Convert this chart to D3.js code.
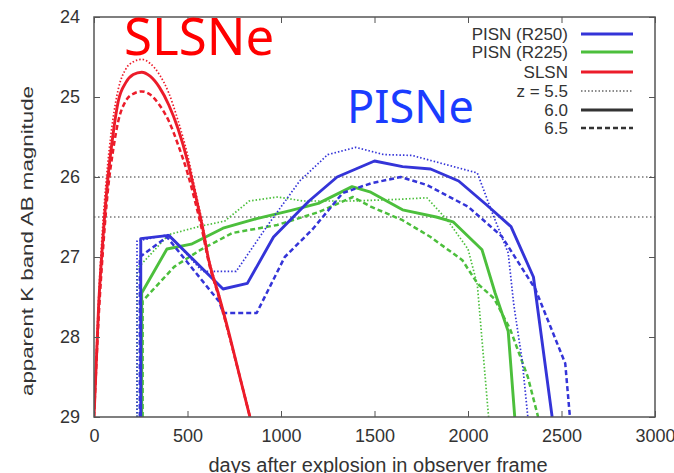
<!DOCTYPE html>
<html>
<head>
<meta charset="utf-8">
<script src="https://d3js.org/d3.v7.min.js"></script>
<style>
  body { margin: 0; background: #fff; }
  svg { display: block; font-family: "Liberation Sans", Arial, sans-serif; }
</style>
</head>
<body>
<div id="chart"></div>
<script>
// axis ticks
const xTicks = [0, 500, 1000, 1500, 2000, 2500, 3000];
const yTicks = [24, 25, 26, 27, 28, 29];
const refLines = [26, 26.5];

// SLSN (one time grid, three redshifts)
const slsnDays  = [0, 25, 50, 75, 100, 130, 170, 210, 255, 300, 350, 400, 450, 500, 540, 583, 610, 670, 727, 780, 834];
const slsnMag55 = [29, 27.5, 26.5, 25.8, 25.3, 24.9, 24.65, 24.56, 24.53, 24.58, 24.72, 24.95, 25.3, 25.72, 26.15, 26.62, 26.97, 27.48, 28.0, 28.5, 29];
const slsnMag60 = [29, 27.6, 26.7, 26.0, 25.5, 25.05, 24.82, 24.72, 24.69, 24.74, 24.88, 25.1, 25.4, 25.8, 26.2, 26.66, 27.0, 27.5, 28.0, 28.5, 29];
const slsnMag65 = [29, 27.75, 26.85, 26.15, 25.7, 25.3, 25.05, 24.96, 24.93, 24.97, 25.1, 25.3, 25.6, 25.95, 26.3, 26.72, 27.03, 27.52, 28.02, 28.5, 29];

// PISN R250
const r250Days55 = [230, 230, 400, 580, 760, 930, 1100, 1250, 1400, 1550, 1700, 2050, 2130, 2215, 2245, 2290, 2320];
const r250Mag55  = [29, 26.8, 26.72, 27.18, 27.18, 26.6, 26.05, 25.72, 25.63, 25.72, 25.73, 25.95, 26.45, 26.95, 27.6, 28.3, 29];
const r250Days60 = [250, 250, 400, 690, 820, 960, 1150, 1300, 1500, 1650, 1800, 1950, 2100, 2230, 2350, 2450];
const r250Mag60  = [29, 26.77, 26.73, 27.4, 27.33, 26.75, 26.3, 26.0, 25.8, 25.87, 25.9, 26.05, 26.35, 26.62, 27.25, 29];
const r250Days65 = [245, 245, 390, 670, 690, 870, 1020, 1170, 1330, 1480, 1640, 1780, 2000, 2180, 2360, 2520, 2545];
const r250Mag65  = [29, 27.0, 26.75, 27.56, 27.7, 27.7, 27.0, 26.65, 26.2, 26.08, 26.0, 26.1, 26.37, 26.74, 27.4, 28.33, 29];

// PISN R225
const r225Days55 = [230, 230, 400, 560, 700, 830, 980, 1120, 1380, 1620, 1780, 1890, 2000, 2050, 2110];
const r225Mag55  = [29, 27.15, 26.72, 26.62, 26.55, 26.3, 26.25, 26.3, 26.3, 26.28, 26.26, 26.54, 26.9, 27.35, 29];
const r225Days60 = [255, 255, 390, 520, 690, 870, 1050, 1200, 1380, 1480, 1650, 1830, 1920, 2075, 2145, 2215, 2250];
const r225Mag60  = [29, 27.45, 26.9, 26.84, 26.64, 26.52, 26.42, 26.33, 26.12, 26.19, 26.41, 26.5, 26.56, 26.91, 27.45, 27.93, 29];
const r225Days65 = [260, 260, 430, 570, 740, 980, 1200, 1385, 1480, 1650, 1800, 1970, 2050, 2140, 2225, 2320, 2375];
const r225Mag65  = [29, 27.55, 27.12, 26.91, 26.7, 26.6, 26.44, 26.25, 26.37, 26.54, 26.75, 27.04, 27.33, 27.52, 27.9, 28.5, 29];

const modelNames = ["PISN (R250)", "PISN (R225)", "SLSN"];
const zNames = ["z = 5.5", "6.0", "6.5"];

const W = 674, H = 473;
const margin = {top: 17, right: 19, bottom: 56, left: 94};

const colBlue = "#3434d8", colGreen = "#4cbf3c", colRed = "#ec1c2a";
const styles = {
  "5.5": {dash: "1.5,2", width: 1.7},
  "6.0": {dash: null, width: 2.9},
  "6.5": {dash: "5,3", width: 2.5}
};

const svg = d3.select("#chart").append("svg")
  .attr("width", W).attr("height", H);

const x = d3.scaleLinear().domain([0, 3000]).range([margin.left, W - margin.right]);
const y = d3.scaleLinear().domain([24, 29]).range([margin.top, H - margin.bottom]);

svg.append("clipPath").attr("id", "clip")
  .append("rect")
  .attr("x", margin.left).attr("y", margin.top)
  .attr("width", W - margin.left - margin.right)
  .attr("height", H - margin.top - margin.bottom);

// reference dotted lines
svg.selectAll(".ref").data(refLines).enter().append("line")
  .attr("x1", x(0)).attr("x2", x(3000))
  .attr("y1", d => y(d)).attr("y2", d => y(d))
  .attr("stroke", "#777").attr("stroke-width", 1.4)
  .attr("stroke-dasharray", "1.5,2.5");

const plot = svg.append("g").attr("clip-path", "url(#clip)");

function draw(days, mags, color, z, curve) {
  const pts = days.map((d, i) => [d, mags[i]]);
  const line = d3.line().x(d => x(d[0])).y(d => y(d[1])).curve(curve || d3.curveLinear);
  plot.append("path")
    .attr("d", line(pts))
    .attr("fill", "none")
    .attr("stroke", color)
    .attr("stroke-width", styles[z].width)
    .attr("stroke-linejoin", "round")
    .attr("stroke-dasharray", styles[z].dash);
}

draw(r225Days55, r225Mag55, colGreen, "5.5");
draw(r225Days65, r225Mag65, colGreen, "6.5");
draw(r225Days60, r225Mag60, colGreen, "6.0");
draw(r250Days55, r250Mag55, colBlue, "5.5");
draw(r250Days65, r250Mag65, colBlue, "6.5");
draw(r250Days60, r250Mag60, colBlue, "6.0");
draw(slsnDays, slsnMag55, colRed, "5.5", d3.curveMonotoneX);
draw(slsnDays, slsnMag65, colRed, "6.5", d3.curveMonotoneX);
draw(slsnDays, slsnMag60, colRed, "6.0", d3.curveMonotoneX);

// axes with inward ticks, mirrored
const axisCol = "#555";
function styleAxis(g) {
  g.select(".domain").remove();
  g.selectAll(".tick line").attr("stroke", axisCol);
  g.selectAll(".tick text").attr("fill", "#333").style("font-size", "18px");
}
svg.append("g").attr("transform", `translate(0,${y(29)})`)
  .call(d3.axisBottom(x).tickValues(xTicks).tickSizeInner(-6).tickPadding(12).tickFormat(d3.format("d")))
  .call(styleAxis);
svg.append("g").attr("transform", `translate(0,${y(24)})`)
  .call(d3.axisTop(x).tickValues(xTicks).tickSizeInner(-6).tickFormat(""))
  .call(styleAxis);
svg.append("g").attr("transform", `translate(${x(0)},0)`)
  .call(d3.axisLeft(y).tickValues(yTicks).tickSizeInner(-6).tickPadding(14).tickFormat(d3.format("d")))
  .call(styleAxis);
svg.append("g").attr("transform", `translate(${x(3000)},0)`)
  .call(d3.axisRight(y).tickValues(yTicks).tickSizeInner(-6).tickFormat(""))
  .call(styleAxis);

svg.append("rect")
  .attr("x", x(0)).attr("y", y(24))
  .attr("width", x(3000) - x(0)).attr("height", y(29) - y(24))
  .attr("fill", "none").attr("stroke", axisCol).attr("stroke-width", 1.5);

// axis titles
svg.append("text")
  .attr("x", 378).attr("y", 472)
  .attr("text-anchor", "middle")
  .attr("fill", "#333").style("font-size", "20px")
  .text("days after explosion in observer frame");
svg.append("text")
  .attr("transform", "translate(33,241) rotate(-90)")
  .attr("text-anchor", "middle")
  .attr("fill", "#333").style("font-size", "17px")
  .attr("textLength", 310).attr("lengthAdjust", "spacingAndGlyphs")
  .text("apparent K band AB magnitude");

// legend
const legTextX = 568, legX1 = 581, legX2 = 633;
const legRows = [
  {label: modelNames[0], color: colBlue, z: "6.0"},
  {label: modelNames[1], color: colGreen, z: "6.0"},
  {label: modelNames[2], color: colRed, z: "6.0"},
  {label: zNames[0], color: "#666", z: "5.5"},
  {label: zNames[1], color: "#333", z: "6.0"},
  {label: zNames[2], color: "#333", z: "6.5"}
];
const legY = [34, 52, 72, 91, 110, 128];
const leg = svg.append("g");
legRows.forEach((r, i) => {
  leg.append("text")
    .attr("x", legTextX).attr("y", legY[i]).attr("dy", "0.35em")
    .attr("text-anchor", "end").attr("fill", "#333")
    .style("font-size", "17px")
    .text(r.label);
  leg.append("line")
    .attr("x1", legX1).attr("x2", legX2)
    .attr("y1", legY[i]).attr("y2", legY[i])
    .attr("stroke", r.color)
    .attr("stroke-width", styles[r.z].width)
    .attr("stroke-dasharray", styles[r.z].dash);
});

// annotations
svg.append("text")
  .attr("x", 124).attr("y", 55)
  .attr("fill", "#ff0000")
  .style("font-family", "'Noto Sans', sans-serif")
  .style("font-size", "51px")
  .text("SLSNe");
svg.append("text")
  .attr("x", 347).attr("y", 123)
  .attr("fill", "#1a3cff")
  .style("font-family", "'Noto Sans', sans-serif")
  .style("font-size", "45px")
  .text("PISNe");
</script>
</body>
</html>
